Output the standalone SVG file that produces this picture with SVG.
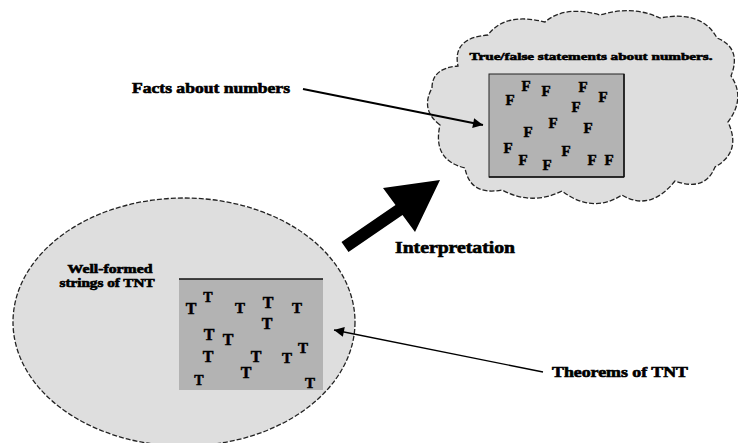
<svg xmlns="http://www.w3.org/2000/svg" width="738" height="443" viewBox="0 0 738 443">
<defs>
<style>
.lbl{font-family:"Liberation Serif","Times New Roman",serif;font-weight:bold;fill:#000;stroke:#000;stroke-width:0.6}
.let{font-family:"Liberation Serif","Times New Roman",serif;font-weight:bold;fill:#000;stroke:#000;stroke-width:0.5;text-anchor:middle}
.blob{fill:#dedede;stroke:#222;stroke-width:1.3;stroke-dasharray:5 2}
.box{fill:#b3b3b3}
.conn{stroke:#000;fill:none}
</style>
<marker id="ah" viewBox="0 0 10 10" refX="10" refY="5" markerWidth="16" markerHeight="10" markerUnits="userSpaceOnUse" orient="auto">
<path d="M0,0 L10,5 L0,10 z" fill="#000"/>
</marker>
</defs>
<rect width="738" height="443" fill="#fff"/>

<g id="wff">
<ellipse class="blob" cx="184" cy="322" rx="171" ry="124"/>
<rect class="box" x="179" y="279" width="144" height="111"/>
<line x1="179" y1="279" x2="323" y2="279" stroke="#111" stroke-width="1.5"/>
<text class="lbl" x="110" y="273" font-size="12" text-anchor="middle" textLength="85" lengthAdjust="spacingAndGlyphs">Well-formed</text>
<text class="lbl" x="107" y="287" font-size="12" text-anchor="middle" textLength="95" lengthAdjust="spacingAndGlyphs">strings of TNT</text>
<g font-size="16">
<text class="let" x="191" y="314">T</text>
<text class="let" x="208" y="302" font-size="14">T</text>
<text class="let" x="240" y="313" font-size="15">T</text>
<text class="let" x="268" y="308">T</text>
<text class="let" x="297" y="313" font-size="15">T</text>
<text class="let" x="267" y="329">T</text>
<text class="let" x="209" y="340">T</text>
<text class="let" x="228" y="345">T</text>
<text class="let" x="208" y="362">T</text>
<text class="let" x="256" y="362">T</text>
<text class="let" x="287" y="363" font-size="15">T</text>
<text class="let" x="303" y="353" font-size="15">T</text>
<text class="let" x="199" y="385" font-size="14">T</text>
<text class="let" x="246" y="378">T</text>
<text class="let" x="310" y="388" font-size="15">T</text>
</g>
</g>

<g id="statements">
<path class="blob" d="M440,125 Q420,110 432,88 Q432,68 458,66 Q452,38 488,35 Q505,12 545,22 Q565,5 600,15 Q632,5 660,18 Q702,10 717,38 Q742,48 731,76 Q746,98 728,122 Q742,152 715,167 Q705,192 675,181 Q650,212 622,195 Q592,214 562,191 Q532,206 502,190 Q470,196 465,168 Q432,160 440,125 Z"/>
<rect class="box" x="489" y="74" width="135" height="103" stroke="#222" stroke-width="1"/>
<line x1="489" y1="177" x2="624" y2="177" stroke="#111" stroke-width="1.5"/>
<line x1="624" y1="74" x2="624" y2="177" stroke="#111" stroke-width="1.5"/>
<text class="lbl" x="591" y="60" font-size="11" text-anchor="middle" textLength="243" lengthAdjust="spacingAndGlyphs">True/false statements about numbers.</text>
<g font-size="15">
<text class="let" x="510" y="105">F</text>
<text class="let" x="526" y="91">F</text>
<text class="let" x="546" y="96">F</text>
<text class="let" x="583" y="92">F</text>
<text class="let" x="603" y="102">F</text>
<text class="let" x="576" y="112">F</text>
<text class="let" x="553" y="128">F</text>
<text class="let" x="528" y="137">F</text>
<text class="let" x="588" y="133">F</text>
<text class="let" x="508" y="153">F</text>
<text class="let" x="523" y="165">F</text>
<text class="let" x="547" y="170">F</text>
<text class="let" x="566" y="156">F</text>
<text class="let" x="592" y="165">F</text>
<text class="let" x="609" y="165">F</text>
</g>
</g>

<g id="facts-label">
<text class="lbl" x="132" y="93" font-size="14" textLength="158" lengthAdjust="spacingAndGlyphs">Facts about numbers</text>
</g>
<g id="interpretation-label">
<text class="lbl" x="395" y="253" font-size="16" textLength="120" lengthAdjust="spacingAndGlyphs">Interpretation</text>
</g>
<g id="theorems-label">
<text class="lbl" x="552" y="377" font-size="14" textLength="136" lengthAdjust="spacingAndGlyphs">Theorems of TNT</text>
</g>

<g id="connectors">
<line class="conn" x1="303" y1="89" x2="483" y2="125" stroke-width="2.2" marker-end="url(#ah)"/>
<line class="conn" x1="543" y1="372" x2="334" y2="330" stroke-width="1.3" marker-end="url(#ah)"/>
<polygon points="341.5,242 395.5,205 383,188 440,180 415,232 402.5,215 348.5,252" fill="#000"/>
</g>
</svg>
